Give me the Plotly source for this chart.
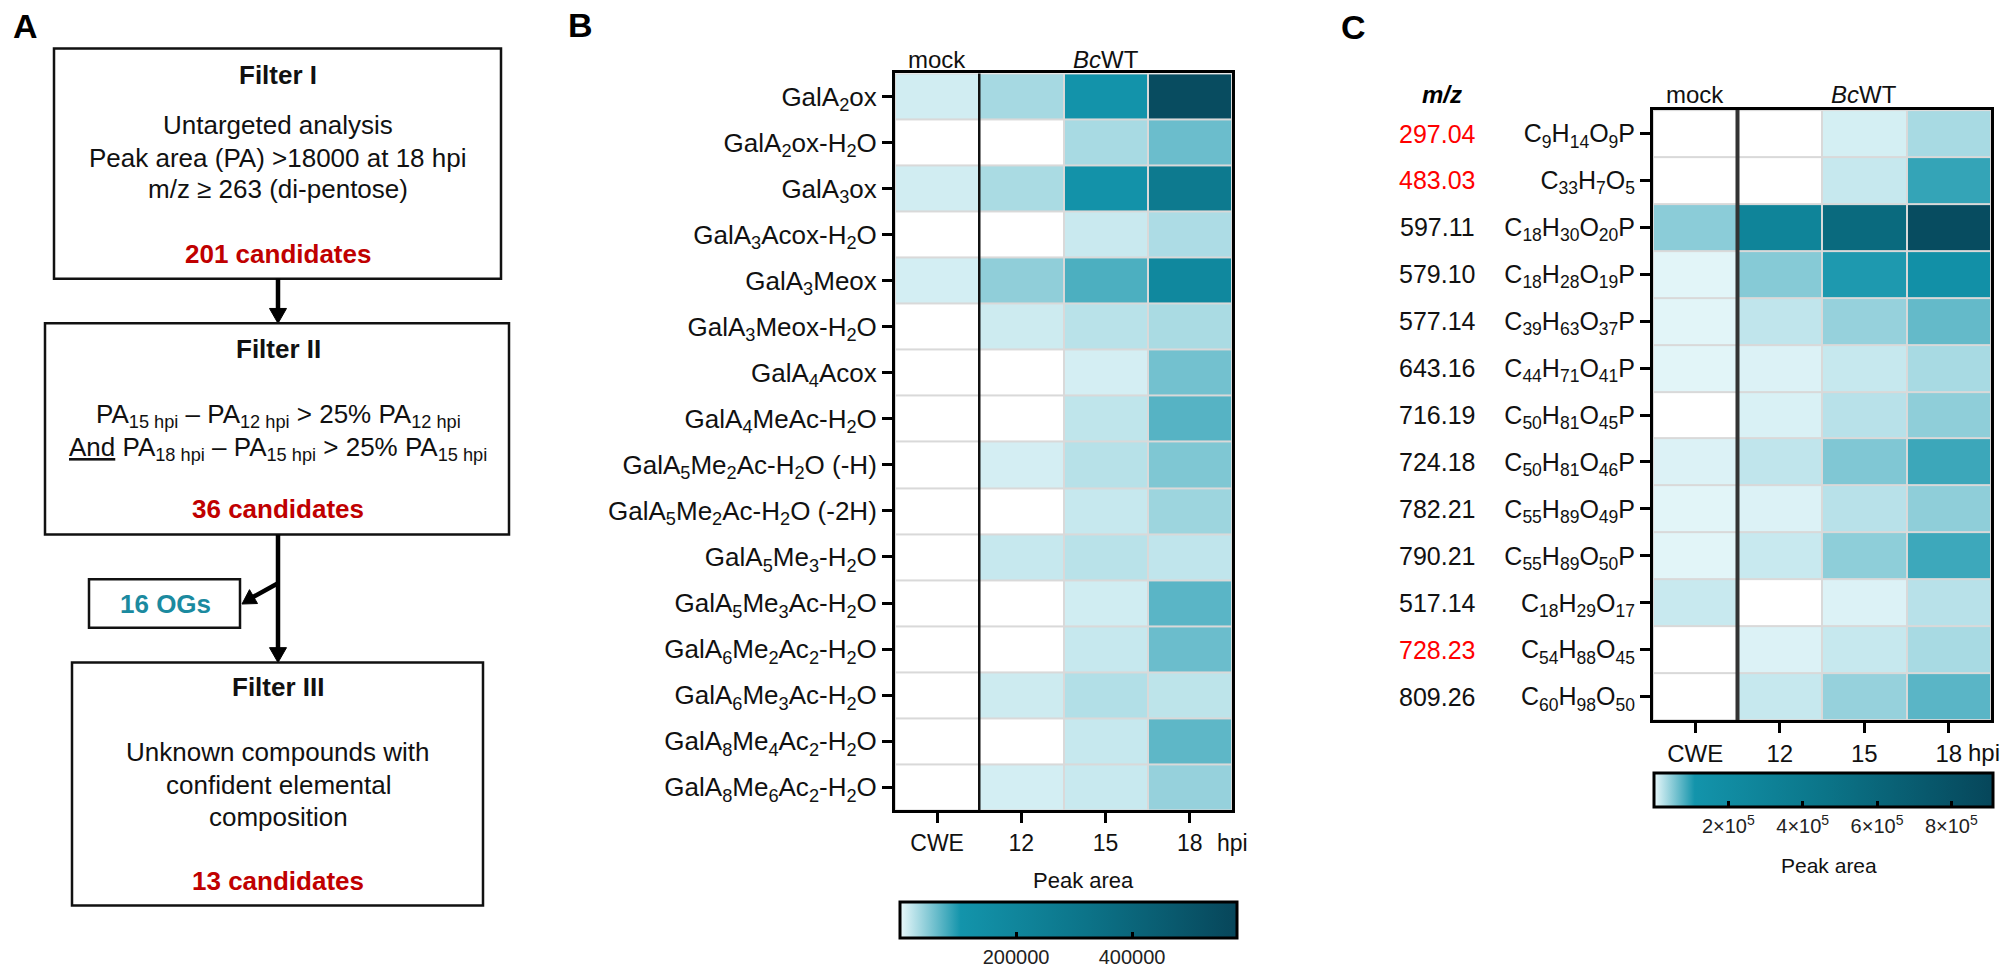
import plotly.graph_objects as go

W, H = 2010, 977
FONT = "Liberation Sans, Arial, sans-serif"

# ---------------- data ----------------
cols = ["CWE", "12", "15", "18"]

b_rows = [
    "GalA<sub>2</sub>ox",
    "GalA<sub>2</sub>ox-H<sub>2</sub>O",
    "GalA<sub>3</sub>ox",
    "GalA<sub>3</sub>Acox-H<sub>2</sub>O",
    "GalA<sub>3</sub>Meox",
    "GalA<sub>3</sub>Meox-H<sub>2</sub>O",
    "GalA<sub>4</sub>Acox",
    "GalA<sub>4</sub>MeAc-H<sub>2</sub>O",
    "GalA<sub>5</sub>Me<sub>2</sub>Ac-H<sub>2</sub>O (-H)",
    "GalA<sub>5</sub>Me<sub>2</sub>Ac-H<sub>2</sub>O (-2H)",
    "GalA<sub>5</sub>Me<sub>3</sub>-H<sub>2</sub>O",
    "GalA<sub>5</sub>Me<sub>3</sub>Ac-H<sub>2</sub>O",
    "GalA<sub>6</sub>Me<sub>2</sub>Ac<sub>2</sub>-H<sub>2</sub>O",
    "GalA<sub>6</sub>Me<sub>3</sub>Ac-H<sub>2</sub>O",
    "GalA<sub>8</sub>Me<sub>4</sub>Ac<sub>2</sub>-H<sub>2</sub>O",
    "GalA<sub>8</sub>Me<sub>6</sub>Ac<sub>2</sub>-H<sub>2</sub>O",
]
b_cwe = [12000, 0, 12000, 0, 11000, 0, 0, 0, 0, 0, 0, 0, 0, 0, 0, 0]
b_12 = [33000, 0, 31000, 0, 44000, 14000, 0, 0, 10700, 0, 17500, 0, 0, 14000, 0, 11000]
b_15 = [112000, 32000, 115000, 16000, 77000, 24000, 10700, 21000, 25000, 17500, 23800, 12600, 17500, 27000, 17500, 16500]
b_18 = [546000, 62000, 279000, 29600, 185000, 31000, 58000, 72000, 52000, 37500, 20400, 70000, 62000, 22000, 68000, 41000]

c_mz = ["297.04", "483.03", "597.11", "579.10", "577.14", "643.16", "716.19",
        "724.18", "782.21", "790.21", "517.14", "728.23", "809.26"]
c_mz_red = [True, True, False, False, False, False, False, False, False, False, False, True, False]
c_rows = [
    "C<sub>9</sub>H<sub>14</sub>O<sub>9</sub>P",
    "C<sub>33</sub>H<sub>7</sub>O<sub>5</sub>",
    "C<sub>18</sub>H<sub>30</sub>O<sub>20</sub>P",
    "C<sub>18</sub>H<sub>28</sub>O<sub>19</sub>P",
    "C<sub>39</sub>H<sub>63</sub>O<sub>37</sub>P",
    "C<sub>44</sub>H<sub>71</sub>O<sub>41</sub>P",
    "C<sub>50</sub>H<sub>81</sub>O<sub>45</sub>P",
    "C<sub>50</sub>H<sub>81</sub>O<sub>46</sub>P",
    "C<sub>55</sub>H<sub>89</sub>O<sub>49</sub>P",
    "C<sub>55</sub>H<sub>89</sub>O<sub>50</sub>P",
    "C<sub>18</sub>H<sub>29</sub>O<sub>17</sub>",
    "C<sub>54</sub>H<sub>88</sub>O<sub>45</sub>",
    "C<sub>60</sub>H<sub>98</sub>O<sub>50</sub>",
]
c_cwe = [0, 0, 48100, 3700, 3700, 3700, 0, 6800, 3700, 3700, 17000, 0, 0]
c_12 = [0, 0, 288000, 50700, 21100, 6800, 8300, 21100, 6800, 17000, 0, 6800, 18000]
c_15 = [10900, 18000, 563000, 104000, 42500, 18000, 25100, 53700, 25100, 46500, 6800, 18000, 42500]
c_18 = [33300, 92500, 854000, 154000, 68000, 33300, 46100, 88500, 46100, 88000, 25100, 33300, 73100]

b_zmax = 581000
c_zmax = 912000
b_cbar_ticks = [200000, 400000]
b_cbar_text = ["200000", "400000"]
c_cbar_ticks = [200000, 400000, 600000, 800000]
c_cbar_text = ["2×10<sup>5</sup>", "4×10<sup>5</sup>", "6×10<sup>5</sup>", "8×10<sup>5</sup>"]

# ---------------- helpers ----------------
def px(x):
    return x / W


def py(y):
    return 1 - y / H


def transpose(*cols_):
    return [list(r) for r in zip(*cols_)]


b_z = transpose(b_cwe, b_12, b_15, b_18)
c_z = transpose(c_cwe, c_12, c_15, c_18)

cs_b = [[0, "#ffffff"], [0.005, "#e4f6f9"], [0.18, "#1394ab"], [0.55, "#0c7489"], [1, "#07465a"]]
cs_c = [[0, "#ffffff"], [0.003, "#e4f6f9"], [0.12, "#1394ab"], [0.5, "#0b7589"], [1, "#06465a"]]

fig = go.Figure()

fig.add_trace(go.Heatmap(
    z=b_z, x=list(range(len(cols))), y=list(range(len(b_rows))),
    zmin=0, zmax=b_zmax, colorscale=cs_b, xgap=2, ygap=2,
    xaxis="x", yaxis="y", hoverinfo="skip",
    colorbar=dict(orientation="h", lenmode="pixels", len=337, thicknessmode="pixels",
                  thickness=36, x=px(1068.5), xanchor="center", y=py(909), yanchor="top",
                  xpad=0, ypad=0, outlinewidth=3, outlinecolor="black",
                  tickvals=b_cbar_ticks, ticktext=b_cbar_text, ticks="inside", ticklen=7,
                  tickwidth=2.5, tickcolor="black",
                  tickfont=dict(size=20, color="#222", family=FONT)),
))
fig.add_trace(go.Heatmap(
    z=c_z, x=list(range(len(cols))), y=list(range(len(c_rows))),
    zmin=0, zmax=c_zmax, colorscale=cs_c, xgap=2, ygap=2,
    xaxis="x2", yaxis="y2", hoverinfo="skip",
    colorbar=dict(orientation="h", lenmode="pixels", len=339, thicknessmode="pixels",
                  thickness=34, x=px(1823.5), xanchor="center", y=py(779), yanchor="top",
                  xpad=0, ypad=0, outlinewidth=3, outlinecolor="black",
                  tickvals=c_cbar_ticks, ticktext=c_cbar_text, ticks="inside", ticklen=7,
                  tickwidth=2.5, tickcolor="black",
                  tickfont=dict(size=20, color="#222", family=FONT)),
))

axis_common = dict(showline=True, linewidth=3, linecolor="black", mirror=True,
                   showgrid=False, zeroline=False, ticks="outside", ticklen=10,
                   tickwidth=2.5, tickcolor="black")

fig.update_layout(
    width=W, height=H,
    margin=dict(l=0, r=0, t=0, b=0),
    paper_bgcolor="white", plot_bgcolor="#d9d9d9",
    font=dict(family=FONT, color="#111"),
    showlegend=False,
    xaxis=dict(domain=[px(895), px(1232)], anchor="y", range=[-0.5, 3.5],
               tickvals=list(range(4)), ticktext=cols,
               tickfont=dict(size=23, family=FONT, color="#111"), **axis_common),
    yaxis=dict(domain=[py(817), py(74)], anchor="x", range=[len(b_rows) - 0.5, -0.5],
               tickvals=list(range(len(b_rows))), ticktext=b_rows,
               tickfont=dict(size=26, family=FONT, color="#111"), **axis_common),
    xaxis2=dict(domain=[px(1653), px(1991)], anchor="y2", range=[-0.5, 3.5],
                tickvals=list(range(4)), ticktext=cols,
                tickfont=dict(size=24, family=FONT, color="#111"), **axis_common),
    yaxis2=dict(domain=[py(726), py(111)], anchor="x2", range=[len(c_rows) - 0.5, -0.5],
                tickvals=list(range(len(c_rows))), ticktext=c_rows,
                tickfont=dict(size=25, family=FONT, color="#111"), **axis_common),
)

shapes = []
annots = []


def text(x, y, s, size=26, color="#111", bold=False, xanchor="center"):
    annots.append(dict(
        x=px(x), y=py(y), xref="paper", yref="paper",
        text=f"<b>{s}</b>" if bold else s, showarrow=False,
        font=dict(size=size, color=color, family=FONT),
        xanchor=xanchor, yanchor="middle"))


def rect(x0, y0, x1, y1, w=2.5):
    shapes.append(dict(type="rect", xref="paper", yref="paper", x0=px(x0), x1=px(x1),
                       y0=py(y0), y1=py(y1), line=dict(color="#111", width=w),
                       fillcolor="rgba(0,0,0,0)"))


def line(x0, y0, x1, y1, w=4.5):
    shapes.append(dict(type="line", xref="paper", yref="paper", x0=px(x0), x1=px(x1),
                       y0=py(y0), y1=py(y1), line=dict(color="#000", width=w)))


def tri(pts):
    d = "M " + " L ".join(f"{px(a)},{py(b)}" for a, b in pts) + " Z"
    shapes.append(dict(type="path", xref="paper", yref="paper", path=d,
                       fillcolor="#000", line=dict(color="#000", width=1)))


# ---------------- Panel A (flowchart) ----------------
RED = "#c00000"
TEAL = "#1b8a9f"
CX = 278

rect(54, 49, 501, 281)
text(CX, 76, "Filter I", bold=True)
text(CX, 126, "Untargeted analysis")
text(CX, 159, "Peak area (PA) >18000 at 18 hpi")
text(CX, 191, "m/z ≥ 263 (di-pentose)")
text(CX, 256, "201 candidates", color=RED, bold=True)

line(CX, 281, CX, 313)
tri([(CX - 8.5, 311), (CX + 8.5, 311), (CX, 326)])

rect(45, 326, 509, 539)
text(CX, 352, "Filter II", bold=True)
text(CX, 419, "PA<sub>15 hpi</sub> – PA<sub>12 hpi</sub> > 25% PA<sub>12 hpi</sub>")
text(CX, 452, "<u>And</u> PA<sub>18 hpi</sub> – PA<sub>15 hpi</sub> > 25% PA<sub>15 hpi</sub>")
text(CX, 513, "36 candidates", color=RED, bold=True)

line(CX, 539, CX, 655)
tri([(CX - 8.5, 653), (CX + 8.5, 653), (CX, 668)])

line(CX, 588, 253, 602)
tri([(257.5, 608.5), (249.5, 594.5), (242, 609)])
rect(89, 584, 240, 633)
text(165, 609, "16 OGs", color=TEAL, bold=True)

rect(72, 668, 483, 913)
text(CX, 693, "Filter III", bold=True)
text(CX, 758, "Unknown compounds with")
text(CX, 791, "confident elemental")
text(CX, 824, "composition")
text(CX, 888, "13 candidates", color=RED, bold=True)

# panel letters
text(25, 26, "A", size=34, bold=True, color="#000")
text(580, 25, "B", size=34, bold=True, color="#000")
text(1353, 27, "C", size=34, bold=True, color="#000")

# ---------------- Panel B extras ----------------
shapes.append(dict(type="line", xref="x", yref="y domain", x0=0.5, x1=0.5, y0=0, y1=1,
                   line=dict(color="#111", width=2.5)))
annots.append(dict(x=0, y=py(60), xref="x", yref="paper", text="mock", showarrow=False,
                   font=dict(size=24, family=FONT, color="#111"), yanchor="middle"))
annots.append(dict(x=2, y=py(60), xref="x", yref="paper", text="<i>Bc</i>WT", showarrow=False,
                   font=dict(size=24, family=FONT, color="#111"), yanchor="middle"))
text(1232, 850, "hpi", size=23)
text(1083, 888, "Peak area", size=22)

# ---------------- Panel C extras ----------------
shapes.append(dict(type="line", xref="x2", yref="y2 domain", x0=0.5, x1=0.5, y0=0, y1=1,
                   line=dict(color="#333", width=4)))
annots.append(dict(x=0, y=py(95), xref="x2", yref="paper", text="mock", showarrow=False,
                   font=dict(size=24, family=FONT, color="#111"), yanchor="middle"))
annots.append(dict(x=2, y=py(95), xref="x2", yref="paper", text="<i>Bc</i>WT", showarrow=False,
                   font=dict(size=24, family=FONT, color="#111"), yanchor="middle"))
text(1442, 95, "<i>m/z</i>", size=24, bold=True, color="#000")
for i, (mz, red) in enumerate(zip(c_mz, c_mz_red)):
    annots.append(dict(x=px(1437), y=i, xref="paper", yref="y2", text=mz, showarrow=False,
                       font=dict(size=25, family=FONT, color="#ff0000" if red else "#111"),
                       xanchor="center", yanchor="middle"))
text(1966, 759, "hpi", size=24, xanchor="left")
text(1829, 873, "Peak area", size=21)

fig.update_layout(shapes=shapes, annotations=annots)
fig.write_html(
    "out.html",
    config={"displayModeBar": False},
    post_script="document.body.style.margin='0';document.body.style.overflow='hidden';",
)
